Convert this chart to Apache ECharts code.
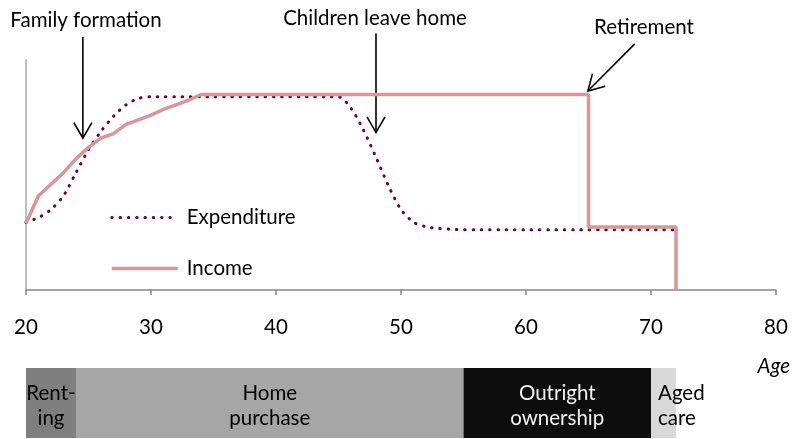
<!DOCTYPE html>
<html>
<head>
<meta charset="utf-8">
<script src="https://cdn.jsdelivr.net/npm/echarts@6/dist/echarts.min.js"></script>
<style>
    html, body { margin: 0; padding: 0; background: #fff; }
    #main { width: 796px; height: 439px; }
</style>
</head>
<body>
<div id="main"></div>
<script>
// x axis ticks
var ageTicks = [20, 30, 40, 50, 60, 70, 80];

// expenditure, one value per year of age from 20 to 72
var expenditure = [
    29.5, 31.5, 35, 41, 51, 61, 69, 75.5, 80.5, 83.3,
    84, 84, 84, 84, 84, 84, 84, 84, 84, 84,
    84, 84, 84, 84, 84, 84, 79, 69.5, 57.7, 45.3,
    35, 29.5, 27.5, 26.8, 26.4, 26.2, 26.2, 26.2, 26.2, 26.2,
    26.2, 26.2, 26.2, 26.2, 26.2, 26.2, 26.2, 26.2, 26.2, 26.2,
    26.2, 26.2, 26.2
];

// income line (age, value)
var incomeAge = [20, 21, 22, 23, 24, 25, 26, 27, 28, 29, 30, 31, 32, 33, 34, 65, 65, 72, 72];
var incomeValue = [29, 41, 46, 51, 57, 62, 66, 68, 72, 74, 76, 78.5, 80.5, 82.5, 85, 85, 27.4, 27.4, 0];

// housing stages under the axis
var stageNames = ['Rent-\ning', 'Home\npurchase', 'Outright\nownership', 'Aged\ncare'];
var stageStart = [20, 24, 55, 70];
var stageEnd = [24, 55, 70, 72];
var stageColors = ['#7f7f7f', '#a6a6a6', '#0d0d0d', '#d9d9d9'];
var stageTextColors = ['#000', '#000', '#f2f2f2', '#000'];

// annotations: [label, tail (age, value), tip (age, value)]
var notes = [
    ['Family formation', [24.55, 110], [24.55, 66]],
    ['Children leave home', [48, 111.5], [48, 68.5]],
    ['Retirement', [68.7, 107], [64.95, 86.5]]
];

var FONT = 'Lato, "Open Sans", sans-serif';
var FS = 20.5;

var dotted = {color: '#660033', width: 3, type: [0.5, 7.8], cap: 'round'};
var solid = {color: '#d99694', width: 3.5};

var expData = expenditure.map(function (v, i) { return [20 + i, v]; });
var incData = incomeAge.map(function (a, i) { return [a, incomeValue[i]]; });
var stageData = stageNames.map(function (n, i) { return [stageStart[i], stageEnd[i], i]; });

var myChart = echarts.init(document.getElementById('main'));

var option = {
    animation: false,
    backgroundColor: '#fff',
    legend: {
        orient: 'vertical',
        left: 105,
        top: 202,
        itemWidth: 66,
        itemHeight: 14,
        itemGap: 30,
        itemStyle: {opacity: 0},
        data: [
            {name: 'Expenditure', lineStyle: dotted},
            {name: 'Income', lineStyle: solid}
        ],
        textStyle: {
            fontFamily: FONT,
            fontSize: FS,
            lineHeight: 20,
            color: '#000',
            padding: [0, 0, 0, 4]
        }
    },
    grid: [
        {left: 26, right: 20, top: 60, bottom: 149},
        {left: 26, right: 20, top: 368, bottom: 1}
    ],
    xAxis: [
        {
            type: 'value',
            gridIndex: 0,
            min: 20,
            max: 80,
            interval: 10,
            axisLine: {lineStyle: {color: '#868686', width: 1.5}},
            axisTick: {show: true, inside: false, length: 5, lineStyle: {color: '#868686', width: 1.5}},
            axisLabel: {
                margin: 27,
                fontFamily: FONT,
                fontSize: FS,
                color: '#000',
                customValues: ageTicks
            },
            splitLine: {show: false}
        },
        {
            type: 'value',
            gridIndex: 1,
            min: 20,
            max: 80,
            show: false
        }
    ],
    yAxis: [
        {
            type: 'value',
            gridIndex: 0,
            min: 0,
            max: 100,
            axisLine: {show: true, lineStyle: {color: '#bfbfbf', width: 2}},
            axisTick: {show: false},
            axisLabel: {show: false},
            splitLine: {show: false}
        },
        {
            type: 'value',
            gridIndex: 1,
            min: 0,
            max: 1,
            show: false
        }
    ],
    series: [
        {
            name: 'Expenditure',
            type: 'line',
            xAxisIndex: 0,
            yAxisIndex: 0,
            data: expData,
            smooth: 0.3,
            symbol: 'none',
            color: '#660033',
            lineStyle: dotted
        },
        {
            name: 'Income',
            type: 'line',
            xAxisIndex: 0,
            yAxisIndex: 0,
            data: incData,
            symbol: 'none',
            color: '#d99694',
            lineStyle: solid
        },
        {
            type: 'custom',
            xAxisIndex: 1,
            yAxisIndex: 1,
            data: stageData,
            renderItem: function (params, api) {
                var i = api.value(2);
                var p0 = api.coord([api.value(0), 1]);
                var p1 = api.coord([api.value(1), 0]);
                var aged = i === 3;
                return {
                    type: 'rect',
                    shape: {x: p0[0], y: p0[1], width: p1[0] - p0[0], height: p1[1] - p0[1]},
                    style: {fill: stageColors[i]},
                    textContent: {
                        style: {
                            text: stageNames[i],
                            fill: stageTextColors[i],
                            fontFamily: FONT,
                            fontSize: FS,
                            lineHeight: 25,
                            align: aged ? 'left' : 'center'
                        }
                    },
                    textConfig: {
                        position: aged ? 'insideLeft' : 'inside',
                        distance: 7,
                        offset: [0, 3]
                    }
                };
            }
        }
    ]
};

myChart.setOption(option);

// arrows and texts placed through the grid's own scale
function txt(s, x, y, italic) {
    return {
        type: 'text',
        x: x,
        y: y,
        style: {
            text: s,
            fontFamily: FONT,
            fontSize: FS,
            fontStyle: italic ? 'italic' : 'normal',
            fill: '#000',
            align: italic ? 'right' : 'center',
            verticalAlign: 'middle',
            textAlign: italic ? 'right' : 'center',
            textVerticalAlign: 'middle'
        }
    };
}

var graphics = [];
var textPos = [[86, 20], [375, 18], [644, 27]];
notes.forEach(function (n, k) {
    var a = myChart.convertToPixel({gridIndex: 0}, n[1]);
    var b = myChart.convertToPixel({gridIndex: 0}, n[2]);
    var dx = b[0] - a[0], dy = b[1] - a[1];
    var len = Math.sqrt(dx * dx + dy * dy);
    var bx = -dx / len, by = -dy / len;
    var head = 18, ang = Math.PI / 6;
    function wing(s) {
        var c = Math.cos(s * ang), sn = Math.sin(s * ang);
        return [b[0] + head * (bx * c - by * sn), b[1] + head * (bx * sn + by * c)];
    }
    var st = {stroke: '#000', lineWidth: 1.6, fill: null};
    graphics.push({type: 'polyline', shape: {points: [a, b]}, style: st});
    graphics.push({type: 'polyline', shape: {points: [wing(1), b, wing(-1)]}, style: st});
    graphics.push(txt(n[0], textPos[k][0], textPos[k][1]));
});
graphics.push(txt('Age', 790, 366, true));

myChart.setOption({graphic: graphics});
</script>
</body>
</html>
